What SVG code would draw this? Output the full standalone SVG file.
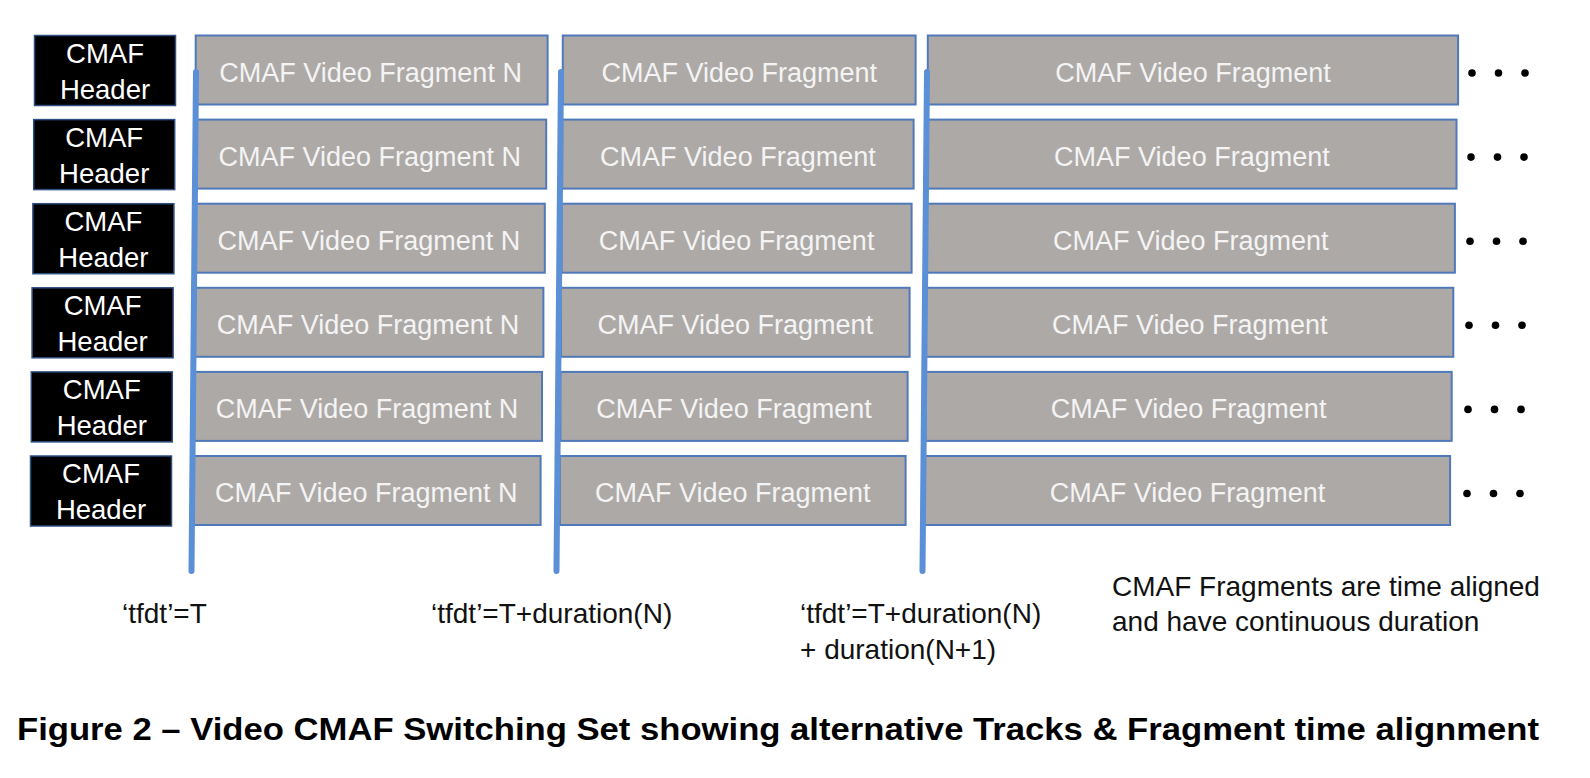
<svg xmlns="http://www.w3.org/2000/svg" width="1590" height="778" viewBox="0 0 1590 778">
<style>
.hdr{fill:#000;stroke:#2f4f80;stroke-width:1.5}
.frag{fill:#ada9a7;stroke:#5079ba;stroke-width:2}
.ht{font-family:"Liberation Sans",Arial,sans-serif;font-size:27.5px;fill:#fff;text-anchor:middle}
.ft{font-family:"Liberation Sans",Arial,sans-serif;font-size:27px;fill:#f4f4f4;text-anchor:middle}
.lbl{font-family:"Liberation Sans",Arial,sans-serif;font-size:28px;fill:#111}
.dot{fill:#000}
.tl{stroke:#5b8fd6;stroke-width:6;stroke-linecap:round;fill:none}
.title{font-family:"Liberation Sans",Arial,sans-serif;font-size:32px;font-weight:bold;fill:#000}
</style>
<rect width="1590" height="778" fill="#fff"/>

<g id="row1">
<g id="hdr1"><rect class="hdr" x="34.5" y="35.5" width="141" height="70"/><text class="ht" x="105" y="62.5">CMAF</text><text class="ht" x="105" y="98.5">Header</text></g>
<g id="f1-1"><rect class="frag" x="195.7" y="35.5" width="351.9" height="69"/><text class="ft" x="370.6" y="81.5">CMAF Video Fragment N</text></g>
<g id="f1-2"><rect class="frag" x="562.8" y="35.5" width="352.8" height="69"/><text class="ft" x="739.2" y="81.5">CMAF Video Fragment</text></g>
<g id="f1-3"><rect class="frag" x="927.8" y="35.5" width="530.3" height="69"/><text class="ft" x="1193" y="81.5">CMAF Video Fragment</text></g>
<g id="d1"><circle class="dot" cx="1472" cy="73" r="3.8"/><circle class="dot" cx="1498.5" cy="73" r="3.8"/><circle class="dot" cx="1525" cy="73" r="3.8"/></g>
</g>

<g id="row2">
<g id="hdr2"><rect class="hdr" x="33.7" y="119.6" width="141" height="70"/><text class="ht" x="104.2" y="146.6">CMAF</text><text class="ht" x="104.2" y="182.6">Header</text></g>
<g id="f2-1"><rect class="frag" x="195.3" y="119.6" width="350.9" height="69"/><text class="ft" x="369.7" y="165.6">CMAF Video Fragment N</text></g>
<g id="f2-2"><rect class="frag" x="562.2" y="119.6" width="351.4" height="69"/><text class="ft" x="737.9" y="165.6">CMAF Video Fragment</text></g>
<g id="f2-3"><rect class="frag" x="927.2" y="119.6" width="529.3" height="69"/><text class="ft" x="1191.9" y="165.6">CMAF Video Fragment</text></g>
<g id="d2"><circle class="dot" cx="1471" cy="157.1" r="3.8"/><circle class="dot" cx="1497.5" cy="157.1" r="3.8"/><circle class="dot" cx="1524" cy="157.1" r="3.8"/></g>
</g>

<g id="row3">
<g id="hdr3"><rect class="hdr" x="32.9" y="203.7" width="141" height="70"/><text class="ht" x="103.4" y="230.7">CMAF</text><text class="ht" x="103.4" y="266.7">Header</text></g>
<g id="f3-1"><rect class="frag" x="194.9" y="203.7" width="349.9" height="69"/><text class="ft" x="368.9" y="249.7">CMAF Video Fragment N</text></g>
<g id="f3-2"><rect class="frag" x="561.6" y="203.7" width="350" height="69"/><text class="ft" x="736.6" y="249.7">CMAF Video Fragment</text></g>
<g id="f3-3"><rect class="frag" x="926.6" y="203.7" width="528.3" height="69"/><text class="ft" x="1190.8" y="249.7">CMAF Video Fragment</text></g>
<g id="d3"><circle class="dot" cx="1470" cy="241.2" r="3.8"/><circle class="dot" cx="1496.5" cy="241.2" r="3.8"/><circle class="dot" cx="1523" cy="241.2" r="3.8"/></g>
</g>

<g id="row4">
<g id="hdr4"><rect class="hdr" x="32.1" y="287.8" width="141" height="70"/><text class="ht" x="102.6" y="314.8">CMAF</text><text class="ht" x="102.6" y="350.8">Header</text></g>
<g id="f4-1"><rect class="frag" x="194.5" y="287.8" width="348.9" height="69"/><text class="ft" x="368" y="333.8">CMAF Video Fragment N</text></g>
<g id="f4-2"><rect class="frag" x="561" y="287.8" width="348.6" height="69"/><text class="ft" x="735.3" y="333.8">CMAF Video Fragment</text></g>
<g id="f4-3"><rect class="frag" x="926" y="287.8" width="527.3" height="69"/><text class="ft" x="1189.7" y="333.8">CMAF Video Fragment</text></g>
<g id="d4"><circle class="dot" cx="1469" cy="325.3" r="3.8"/><circle class="dot" cx="1495.5" cy="325.3" r="3.8"/><circle class="dot" cx="1522" cy="325.3" r="3.8"/></g>
</g>

<g id="row5">
<g id="hdr5"><rect class="hdr" x="31.3" y="371.9" width="141" height="70"/><text class="ht" x="101.8" y="398.9">CMAF</text><text class="ht" x="101.8" y="434.9">Header</text></g>
<g id="f5-1"><rect class="frag" x="194.1" y="371.9" width="347.9" height="69"/><text class="ft" x="367" y="417.9">CMAF Video Fragment N</text></g>
<g id="f5-2"><rect class="frag" x="560.4" y="371.9" width="347.2" height="69"/><text class="ft" x="734" y="417.9">CMAF Video Fragment</text></g>
<g id="f5-3"><rect class="frag" x="925.4" y="371.9" width="526.3" height="69"/><text class="ft" x="1188.6" y="417.9">CMAF Video Fragment</text></g>
<g id="d5"><circle class="dot" cx="1468" cy="409.4" r="3.8"/><circle class="dot" cx="1494.5" cy="409.4" r="3.8"/><circle class="dot" cx="1521" cy="409.4" r="3.8"/></g>
</g>

<g id="row6">
<g id="hdr6"><rect class="hdr" x="30.5" y="456" width="141" height="70"/><text class="ht" x="101" y="483">CMAF</text><text class="ht" x="101" y="519">Header</text></g>
<g id="f6-1"><rect class="frag" x="193.7" y="456" width="346.9" height="69"/><text class="ft" x="366.2" y="502">CMAF Video Fragment N</text></g>
<g id="f6-2"><rect class="frag" x="559.8" y="456" width="345.8" height="69"/><text class="ft" x="732.7" y="502">CMAF Video Fragment</text></g>
<g id="f6-3"><rect class="frag" x="924.8" y="456" width="525.3" height="69"/><text class="ft" x="1187.5" y="502">CMAF Video Fragment</text></g>
<g id="d6"><circle class="dot" cx="1467" cy="493.5" r="3.8"/><circle class="dot" cx="1493.5" cy="493.5" r="3.8"/><circle class="dot" cx="1520" cy="493.5" r="3.8"/></g>
</g>

<g id="connectors">
<line class="tl" x1="196" y1="72" x2="191.5" y2="571"/>
<line class="tl" x1="561" y1="72" x2="556.5" y2="571"/>
<line class="tl" x1="927" y1="72" x2="922.5" y2="571"/>
</g>

<g id="labels">
<text class="lbl" x="122" y="623">‘tfdt’=T</text>
<text class="lbl" x="431" y="623">‘tfdt’=T+duration(N)</text>
<text class="lbl" x="800" y="623">‘tfdt’=T+duration(N)</text>
<text class="lbl" x="800" y="659">+ duration(N+1)</text>
<text class="lbl" x="1112" y="596">CMAF Fragments are time aligned</text>
<text class="lbl" x="1112" y="631">and have continuous duration</text>
</g>

<text class="title" x="17" y="740" textLength="1522" lengthAdjust="spacingAndGlyphs">Figure 2 – Video CMAF Switching Set showing alternative Tracks &amp; Fragment time alignment</text>
</svg>
